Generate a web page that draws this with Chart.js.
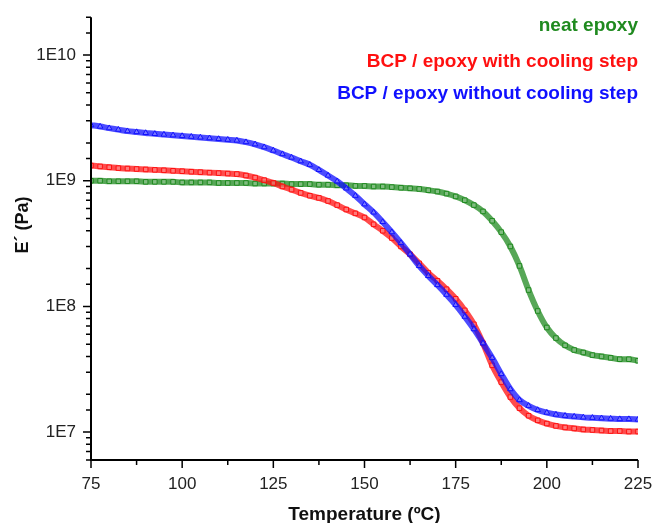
<!DOCTYPE html>
<html>
<head>
<meta charset="utf-8">
<script src="https://cdn.jsdelivr.net/npm/chart.js"></script>
<style>
html, body { margin: 0; padding: 0; background: #fff; }
#wrap { width: 655px; height: 523px; position: relative; }
</style>
</head>
<body>
<div id="wrap"><canvas id="myChart"></canvas></div>
<script>
// Temperature (deg C)
var temps = [75, 77.5, 80, 82.5, 85, 87.5, 90, 92.5, 95, 97.5,
	100, 102.5, 105, 107.5, 110, 112.5, 115, 117.5, 120, 122.5,
	125, 127.5, 130, 132.5, 135, 137.5, 140, 142.5, 145, 147.5,
	150, 152.5, 155, 157.5, 160, 162.5, 165, 167.5, 170, 172.5,
	175, 177.5, 180, 182.5, 185, 187.5, 190, 192.5, 195, 197.5,
	200, 202.5, 205, 207.5, 210, 212.5, 215, 217.5, 220, 222.5, 225];

// storage modulus E' in GPa (1E9 Pa)
var neatEpoxy = [1.00, 1.00, 0.99, 0.99, 0.99, 0.99, 0.98, 0.98, 0.98, 0.98,
	0.97, 0.97, 0.97, 0.97, 0.96, 0.96, 0.96, 0.96, 0.95, 0.95,
	0.95, 0.95, 0.94, 0.94, 0.94, 0.93, 0.93, 0.92, 0.92, 0.91,
	0.91, 0.90, 0.90, 0.89, 0.88, 0.87, 0.86, 0.84, 0.82, 0.79,
	0.75, 0.70, 0.64, 0.57, 0.48, 0.39, 0.30, 0.21, 0.135, 0.092,
	0.068, 0.056, 0.049, 0.045, 0.043, 0.041, 0.040, 0.039, 0.038, 0.038, 0.037];

var withCooling = [1.32, 1.30, 1.28, 1.26, 1.25, 1.24, 1.23, 1.22, 1.21, 1.20,
	1.19, 1.18, 1.17, 1.16, 1.15, 1.14, 1.13, 1.10, 1.06, 1.01,
	0.96, 0.90, 0.85, 0.80, 0.76, 0.73, 0.69, 0.64, 0.59, 0.55,
	0.51, 0.45, 0.40, 0.35, 0.30, 0.26, 0.22, 0.185, 0.16, 0.137,
	0.115, 0.093, 0.072, 0.051, 0.034, 0.025, 0.019, 0.0155, 0.0135, 0.0124,
	0.0117, 0.0112, 0.0109, 0.0107, 0.0105, 0.0104, 0.0103, 0.0102, 0.0102, 0.0101, 0.0101];

var withoutCooling = [2.77, 2.70, 2.62, 2.55, 2.48, 2.44, 2.40, 2.36, 2.33, 2.30,
	2.27, 2.24, 2.21, 2.18, 2.15, 2.12, 2.09, 2.03, 1.95, 1.85,
	1.74, 1.63, 1.53, 1.43, 1.34, 1.22, 1.10, 0.99, 0.87, 0.76,
	0.65, 0.56, 0.47, 0.39, 0.32, 0.26, 0.21, 0.175, 0.148, 0.124,
	0.103, 0.083, 0.066, 0.051, 0.039, 0.029, 0.022, 0.018, 0.0162, 0.0150,
	0.0143, 0.0138, 0.0135, 0.0133, 0.0131, 0.0130, 0.0129, 0.0128, 0.0127, 0.0127, 0.0126];

var seriesNames = ["neat epoxy", "BCP / epoxy with cooling step", "BCP / epoxy without cooling step"];
var seriesColors = ["#1f8a1f", "#ff1010", "#1010ff"];
var bandColors = ["rgba(31,138,31,0.75)", "rgba(255,16,16,0.75)", "rgba(16,16,255,0.75)"];
var xTitle = "Temperature (\u00baC)";
var yTitle = "E\u00b4 (Pa)";

var font = "'Liberation Sans', Arial, sans-serif";

function toPoints(vals) {
	return vals.map(function (v, i) {
		return { x: temps[i], y: v * 1e9 };
	});
}

function isDecade(v) {
	var l = Math.log10(v);
	return Math.abs(l - Math.round(l)) < 1e-9;
}

// axis lines, outward tick marks, y title and the text legend
var axisPlugin = {
	id: "axisPlugin",
	afterDraw: function (chart) {
		var ctx = chart.ctx;
		var area = chart.chartArea;
		var xs = chart.scales.x;
		var ys = chart.scales.y;
		ctx.save();
		ctx.strokeStyle = "#000";
		ctx.lineWidth = 1.5;
		ctx.beginPath();
		xs.ticks.forEach(function (t) {
			var px = xs.getPixelForValue(t.value);
			var len = t.value % 25 === 0 ? 8 : 5;
			ctx.moveTo(px, area.bottom);
			ctx.lineTo(px, area.bottom + len);
		});
		ys.ticks.forEach(function (t) {
			var py = ys.getPixelForValue(t.value);
			if (py < area.top - 1) return;
			var len = isDecade(t.value) ? 8 : 5;
			ctx.moveTo(area.left, py);
			ctx.lineTo(area.left - len, py);
		});
		ctx.stroke();

		ctx.lineWidth = 2;
		ctx.beginPath();
		ctx.moveTo(area.left, area.top);
		ctx.lineTo(area.left, area.bottom);
		ctx.lineTo(area.right, area.bottom);
		ctx.stroke();

		// y axis title, a bit above the middle like the original
		ctx.save();
		ctx.translate(23, 225);
		ctx.rotate(-Math.PI / 2);
		ctx.font = "bold 18px " + font;
		ctx.fillStyle = "#111";
		ctx.textAlign = "center";
		ctx.textBaseline = "middle";
		ctx.fillText(yTitle, 0, 0);
		ctx.restore();

		// legend
		ctx.font = "bold 19px " + font;
		ctx.textAlign = "right";
		ctx.textBaseline = "middle";
		var rows = [26, 62, 94];
		seriesNames.forEach(function (name, i) {
			ctx.fillStyle = seriesColors[i];
			ctx.fillText(name, area.right, rows[i]);
		});
		ctx.restore();
	}
};

var pointStyles = ["rect", "rect", "triangle"];
var seriesData = [neatEpoxy, withCooling, withoutCooling];

var datasets = seriesData.map(function (vals, i) {
	return {
		label: seriesNames[i],
		data: toPoints(vals),
		borderColor: bandColors[i],
		backgroundColor: "rgba(255,255,255,0)",
		borderWidth: 6,
		pointStyle: pointStyles[i],
		pointRadius: 3.2,
		pointBorderWidth: 1,
		pointBorderColor: seriesColors[i],
		pointBackgroundColor: "rgba(255,255,255,0.25)",
		cubicInterpolationMode: "monotone",
		order: 2 - i
	};
});

var ctx = document.getElementById("myChart").getContext("2d");
var chart = new Chart(ctx, {
	type: "line",
	data: { datasets: datasets },
	options: {
		responsive: true,
		maintainAspectRatio: false,
		animation: false,
		layout: { padding: { top: 14, right: 17, left: 0, bottom: 0 } },
		plugins: {
			legend: { display: false },
			tooltip: { enabled: false }
		},
		scales: {
			x: {
				type: "linear",
				min: 75,
				max: 225,
				afterFit: function (scale) {
					scale.height = 63;
					scale.paddingLeft = 0;
					scale.paddingRight = 0;
				},
				grid: { display: false },
				border: { display: false },
				ticks: {
					stepSize: 12.5,
					autoSkip: false,
					maxRotation: 0,
					padding: 6,
					color: "#222",
					font: { family: font, size: 17 },
					callback: function (v) { return v % 25 === 0 ? String(v) : ""; }
				},
				title: {
					display: true,
					text: xTitle,
					color: "#111",
					font: { family: font, size: 19, weight: "bold", lineHeight: 0.9 },
					padding: { top: 0, bottom: 0 }
				}
			},
			y: {
				type: "logarithmic",
				min: 6e6,
				max: 2e10,
				afterFit: function (scale) { scale.width = 91; },
				grid: { display: false },
				border: { display: false },
				ticks: {
					autoSkip: false,
					padding: 7,
					color: "#222",
					font: { family: font, size: 17 },
					callback: function (v) {
						return isDecade(v) ? "1E" + Math.round(Math.log10(v)) : "";
					}
				}
			}
		}
	},
	plugins: [axisPlugin]
});
</script>
</body>
</html>
